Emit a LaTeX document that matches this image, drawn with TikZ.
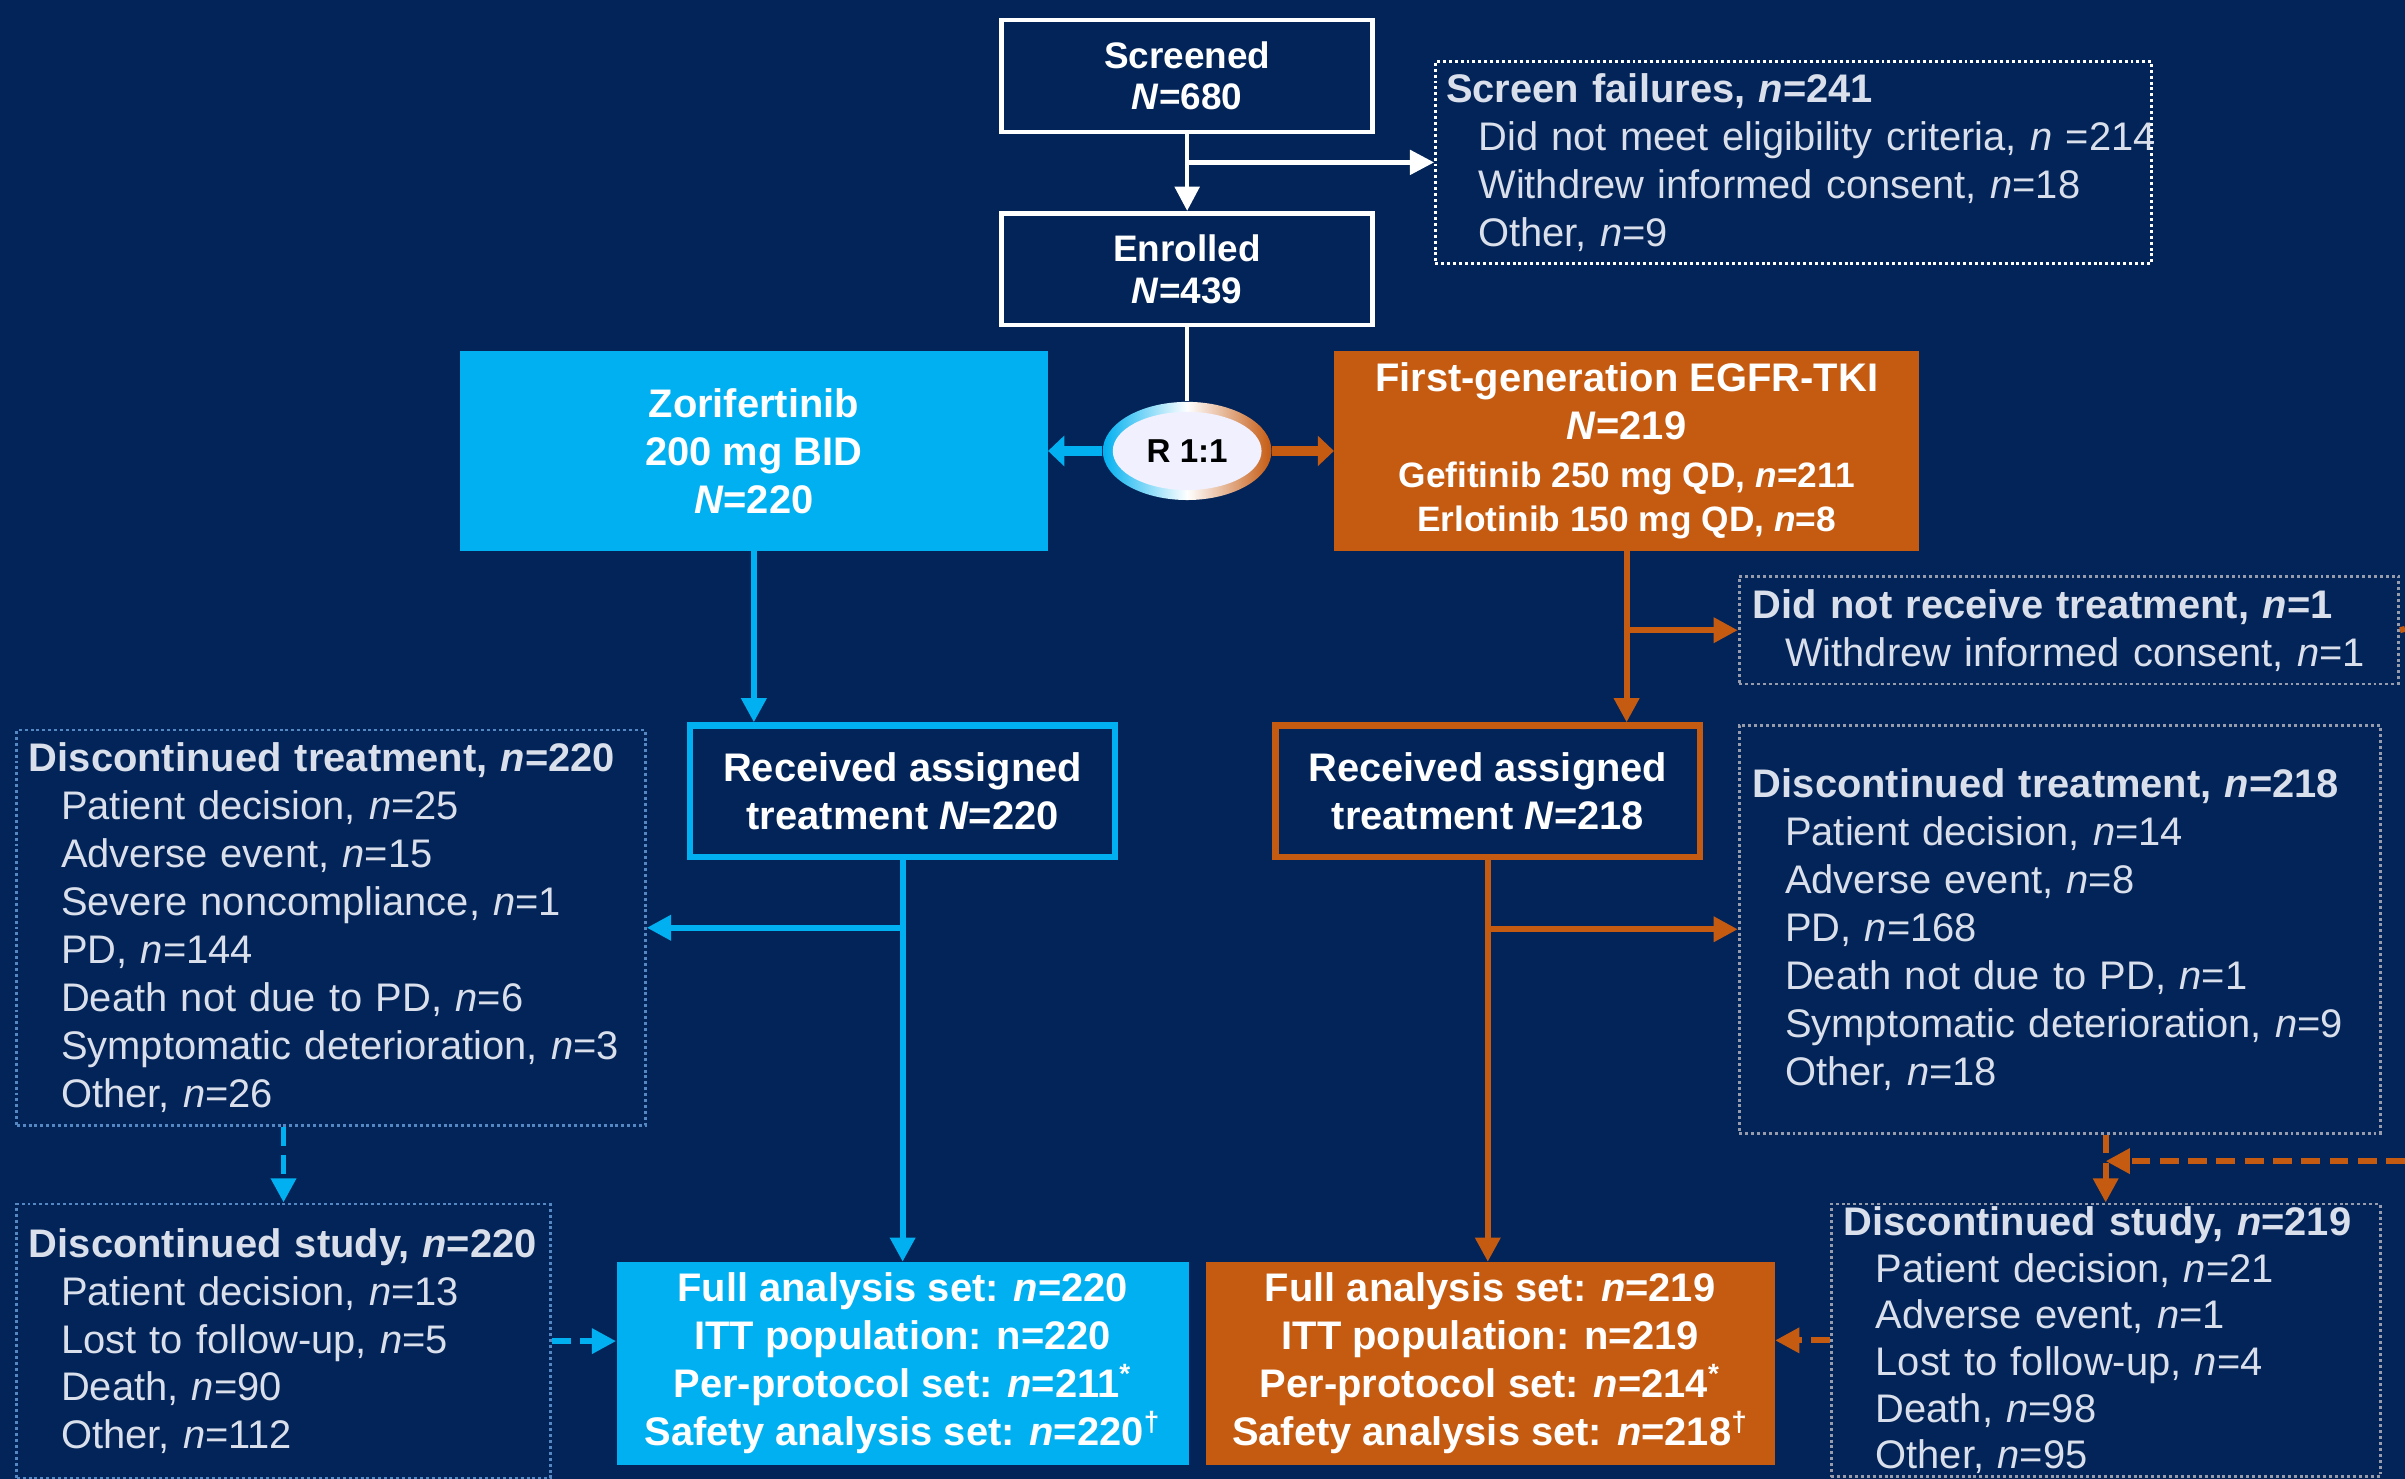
\documentclass[tikz,border=0pt]{standalone}
\usepackage{fontspec}
\setmainfont{Liberation Sans}
\usetikzlibrary{arrows.meta,positioning,shapes.geometric}

\definecolor{navy}{RGB}{3,36,88}
\definecolor{zblue}{RGB}{0,176,240}
\definecolor{egorange}{RGB}{197,90,17}
\definecolor{listtext}{RGB}{218,223,236}
\definecolor{dotblue}{RGB}{85,135,195}
\definecolor{dotgray}{RGB}{150,156,172}

\newcommand{\lhead}[1]{\mbox{\bfseries #1}}
\newcommand{\litem}[1]{\mbox{\hspace{0.42cm}#1}}

\tikzset{
  flowbox/.style={draw=white, line width=1.7pt, fill=navy, text=white, align=center,
    minimum width=4.84cm, minimum height=1.46cm, font=\bfseries\fontsize{13.7}{15.4}\selectfont},
  armbox/.style={text=white, align=center, font=\bfseries\fontsize{14.8}{17.8}\selectfont},
  recvbox/.style={armbox, fill=navy, line width=2.3pt, minimum width=5.54cm, minimum height=1.72cm},
  setbox/.style={armbox, minimum height=2.64cm},
  listbox/.style={line width=1pt, dash pattern=on 1.1pt off 1.1pt, text=listtext, align=left,
    anchor=north west, inner ysep=0pt, font=\fontsize{14.8}{17.8}\selectfont},
  wline/.style={draw=white, line width=1.7pt},
  warrow/.style={wline, -{Triangle[length=9pt,width=9pt]}},
  barrow/.style={draw=zblue, line width=2.2pt, -{Triangle[length=9pt,width=9pt]}},
  oarrow/.style={draw=egorange, line width=2.2pt, -{Triangle[length=9pt,width=9pt]}},
  bdash/.style={barrow, dash pattern=on 7pt off 3.5pt},
  odash/.style={oarrow, dash pattern=on 7pt off 3.5pt},
}

\begin{document}
\begin{tikzpicture}[x=0.02cm, y=-0.02cm]

  % background
  \fill[navy] (0,0) rectangle (1568,964);
  \useasboundingbox (0,0) rectangle (1568,964);

  % screening
  \node[flowbox] (scr) at (774,49.5) {Screened\\\textit{N}=680};
  \node[flowbox] (enr) at (774,175.5) {Enrolled\\\textit{N}=439};
  \node[listbox, draw=white, text width=9.06cm, inner xsep=0.14cm, minimum height=2.64cm] (sf) at (935,39)
    {\lhead{Screen failures, \textit{n}=241}\\
     \litem{Did not meet eligibility criteria, \textit{n} =214}\\
     \litem{Withdrew informed consent, \textit{n}=18}\\
     \litem{Other, \textit{n}=9}};

  % randomisation
  \node[ellipse, minimum width=2.2cm, minimum height=1.28cm, left color=zblue, right color=egorange, middle color=white] (rand) at (774,294) {};
  \node[ellipse, fill=white!94!blue, minimum width=1.94cm, minimum height=1.02cm, text=black,
    font=\bfseries\fontsize{12.3}{14}\selectfont] (rlabel) at (rand) {R 1:1};

  % arms
  \node[armbox, fill=zblue, minimum width=7.66cm, minimum height=2.6cm] (zor) at (491.5,294)
    {Zorifertinib\\200 mg BID\\\textit{N}=220};
  \node[armbox, fill=egorange, minimum width=7.62cm, minimum height=2.6cm] (egf) at (1060.5,294)
    {First-generation EGFR-TKI\\\textit{N}=219\\
     {\fontsize{13.1}{15.4}\selectfont Gefitinib 250 mg QD, \textit{n}=211}\\[-1.5pt]
     {\fontsize{13.1}{15.4}\selectfont Erlotinib 150 mg QD, \textit{n}=8}};

  \node[recvbox, draw=zblue] (rcb) at (588.5,516) {Received assigned\\treatment \textit{N}=220};
  \node[recvbox, draw=egorange] (rco) at (970,516) {Received assigned\\treatment \textit{N}=218};

  \node[listbox, draw=dotgray, text width=8.24cm, inner xsep=0.18cm, minimum height=1.4cm] (dnr) at (1133,375)
    {\lhead{Did not receive treatment, \textit{n}=1}\\
     \litem{Withdrew informed consent, \textit{n}=1}};

  % discontinuations
  \node[listbox, draw=dotblue, text width=7.88cm, inner xsep=0.16cm, minimum height=5.16cm] (ldt) at (10,475)
    {\lhead{Discontinued treatment, \textit{n}=220}\\
     \litem{Patient decision, \textit{n}=25}\\
     \litem{Adverse event, \textit{n}=15}\\
     \litem{Severe noncompliance, \textit{n}=1}\\
     \litem{PD, \textit{n}=144}\\
     \litem{Death not due to PD, \textit{n}=6}\\
     \litem{Symptomatic deterioration, \textit{n}=3}\\
     \litem{Other, \textit{n}=26}};
  \node[listbox, draw=dotgray, text width=8.0cm, inner xsep=0.18cm, minimum height=5.32cm] (rdt) at (1133,472)
    {\lhead{Discontinued treatment, \textit{n}=218}\\
     \litem{Patient decision, \textit{n}=14}\\
     \litem{Adverse event, \textit{n}=8}\\
     \litem{PD, \textit{n}=168}\\
     \litem{Death not due to PD, \textit{n}=1}\\
     \litem{Symptomatic deterioration, \textit{n}=9}\\
     \litem{Other, \textit{n}=18}};
  \node[listbox, draw=dotblue, text width=6.64cm, inner xsep=0.16cm, minimum height=3.58cm] (lds) at (10,784)
    {\lhead{Discontinued study, \textit{n}=220}\\
     \litem{Patient decision, \textit{n}=13}\\
     \litem{Lost to follow-up, \textit{n}=5}\\
     \litem{Death, \textit{n}=90}\\
     \litem{Other, \textit{n}=112}};
  \node[listbox, draw=dotgray, text width=6.84cm, inner xsep=0.16cm, minimum height=3.56cm,
    font=\fontsize{14.8}{17.3}\selectfont] (rds) at (1193,784)
    {\lhead{Discontinued study, \textit{n}=219}\\
     \litem{Patient decision, \textit{n}=21}\\
     \litem{Adverse event, \textit{n}=1}\\
     \litem{Lost to follow-up, \textit{n}=4}\\
     \litem{Death, \textit{n}=98}\\
     \litem{Other, \textit{n}=95}};

  % analysis sets
  \node[setbox, fill=zblue, minimum width=7.46cm] (fab) at (588.5,889)
    {Full analysis set: \textit{n}=220\\ITT population: n=220\\
     Per-protocol set: \textit{n}=211\textsuperscript{*}\\Safety analysis set: \textit{n}=220\textsuperscript{†}};
  \node[setbox, fill=egorange, minimum width=7.42cm] (fao) at (971.5,889)
    {Full analysis set: \textit{n}=219\\ITT population: n=219\\
     Per-protocol set: \textit{n}=214\textsuperscript{*}\\Safety analysis set: \textit{n}=218\textsuperscript{†}};

  % connectors
  \draw[warrow] (scr) -- (enr);
  \draw[warrow] (scr.south |- sf.west) -- (sf.west);
  \draw[wline] (enr) -- (rand);
  \draw[barrow, line width=3.5pt, -{Triangle[length=6pt,width=11pt]}] (rand) -- (zor);
  \draw[oarrow, line width=3.5pt, -{Triangle[length=6pt,width=11pt]}] (rand) -- (egf);

  \draw[barrow] (zor.south) -- (zor.south |- rcb.north);
  \draw[oarrow] (egf.south) -- (egf.south |- rco.north);
  \draw[oarrow] (egf.south |- dnr.west) -- (dnr.west);
  \coordinate (offd) at (1568,410);
  \draw[draw=egorange, line width=2.2pt] (dnr.east) -- (offd);

  \draw[barrow] (rcb.south) -- (rcb.south |- fab.north);
  \draw[barrow] (rcb.south |- ldt.east) -- (ldt.east);
  \draw[oarrow] (rco.south) -- (rco.south |- fao.north);
  \draw[oarrow] (rco.south |- rdt.west) -- (rdt.west);

  \draw[bdash] (lds.north |- ldt.south) -- (lds.north);
  \draw[bdash] (lds.east) -- (lds.east -| fab.west);
  \draw[odash] (rds.north |- rdt.south) -- (rds.north);
  \coordinate (offr) at (1568,757);
  \draw[odash] (offr) -- (offr -| rds.north);
  \draw[odash] (rds.west) -- (rds.west -| fao.east);

\end{tikzpicture}
\end{document}
